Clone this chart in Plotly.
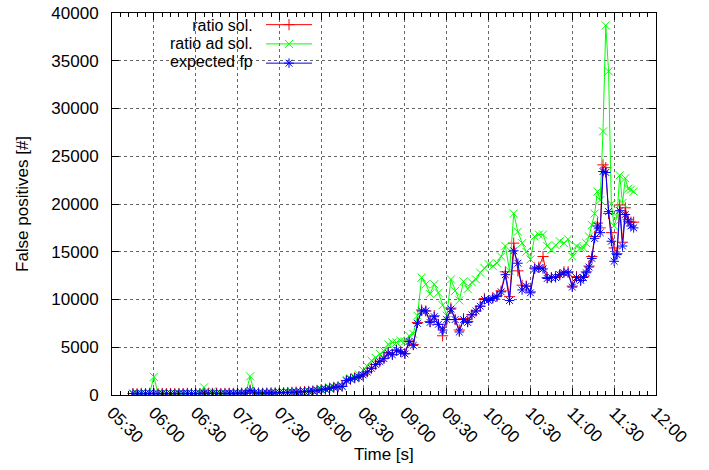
import pandas as pd
import plotly.graph_objects as go

# time stamps: 3-min steps up to 11:06, then 2-min steps to 11:44
times = list(pd.date_range("2000-01-01 05:45", "2000-01-01 11:06", freq="3min")) + \
        list(pd.date_range("2000-01-01 11:08", "2000-01-01 11:44", freq="2min"))

expected_fp = [
    150, 130, 160, 140, 170, 150, 130, 160, 140, 150,
    140, 160, 150, 170, 150, 140, 160, 200, 150, 170,
    170, 150, 160, 180, 170, 190, 200, 180, 480, 220,
    200, 190, 210, 220, 230, 250, 240, 260, 280, 300,
    320, 350, 380, 420, 480,
    550, 600, 700, 800, 850, 900, 1500, 1650, 1800, 1900,
    2100, 2400, 2800, 3200, 3500, 3800, 4400, 4200, 4700, 4500,
    4300, 5600, 5200, 7500, 8800, 8800, 7600, 8200, 7400, 6800,
    7900, 9000, 7900, 6600, 7900, 7600, 8400, 8800, 9300, 10000,
    9900, 10100, 10300, 10800, 12600, 9900, 15100, 13800, 11000, 11400,
    10700, 13200, 13300, 13200, 12200, 12300, 12300, 12600, 12800, 12800,
    11300, 12300, 12000,
    12300, 12800, 13400, 14300, 16400, 17700, 17000, 23400, 23300, 19200,
    16100, 14000, 14700, 19300, 15600, 18900, 18200, 17700, 17500,
]

ratio_sol = [
    150, 130, 160, 140, 170, 150, 130, 160, 140, 150,
    140, 160, 150, 170, 150, 140, 160, 210, 150, 170,
    170, 150, 160, 180, 170, 190, 200, 180, 520, 220,
    200, 190, 210, 220, 230, 250, 240, 260, 280, 300,
    320, 350, 380, 420, 480,
    560, 610, 710, 800, 860, 920, 1520, 1660, 1800, 1920,
    2100, 2450, 2800, 3200, 3550, 3850, 4450, 4250, 4700, 4550,
    4350, 5650, 5300, 7600, 8900, 8800, 7700, 8300, 7400, 6200,
    7900, 9100, 7900, 6800, 8000, 7700, 8400, 8800, 9300, 10100,
    9900, 10200, 10400, 10900, 12900, 10300, 15900, 13000, 11500, 11400,
    10800, 13300, 13400, 14500, 12300, 12300, 12400, 12600, 12900, 12900,
    11400, 12400, 12000,
    12400, 12900, 13500, 14500, 16600, 18000, 17500, 24100, 23800, 19000,
    17000, 15400, 14800, 19900, 16000, 19600, 18400, 18100, 18100,
]

ratio_ad_sol = [
    180, 160, 190, 170, 200, 1900, 160, 190, 170, 180,
    170, 190, 180, 200, 180, 170, 190, 800, 180, 400,
    200, 180, 190, 210, 200, 220, 230, 210, 1950, 250,
    230, 220, 240, 250, 260, 280, 270, 290, 310, 330,
    350, 380, 410, 450, 520,
    600, 650, 750, 850, 900, 950, 1600, 1750, 1900, 2150,
    2600, 3000, 3600, 3900, 4300, 4600, 5300, 5500, 5500, 5700,
    5600, 6200, 6400, 8300, 12300, 11600, 10600, 11600, 10700, 9400,
    8300, 12100, 10900, 9900, 11900, 11100, 11800, 12100, 12800, 13300,
    13700, 13500, 13800, 14500, 15600, 13000, 19000, 17100, 15900, 15000,
    14200, 16600, 16800, 16800, 15600, 15200, 15700, 16100, 15900, 16300,
    14500, 15600, 15400,
    15400, 15900, 16600, 17800, 19000, 21300, 20400, 27600, 38700, 33900,
    20000, 17700, 18700, 23000, 20100, 22700, 21600, 21500, 21300,
]

series_names = ["ratio sol.", "ratio ad sol.", "expected fp"]
series_colors = ["#ff0000", "#00ff00", "#0000ff"]
series_symbols = ["cross-thin-open", "x-thin-open", "asterisk-open"]
series_sizes = [8, 8, 8]
series_values = [ratio_sol, ratio_ad_sol, expected_fp]

FONT = "Liberation Sans, Arial, sans-serif"

fig = go.Figure()
for name, col, sym, sz, vals in zip(series_names, series_colors, series_symbols, series_sizes, series_values):
    fig.add_trace(go.Scatter(
        x=times, y=vals, name=" ", mode="lines+markers",
        line=dict(color=col, width=1),
        marker=dict(symbol=sym, size=sz, line=dict(color=col, width=1), color=col),
    ))

L, R, T, B = 112, 53, 10, 75
W, H = 709, 470
pw, ph = W - L - R, H - T - B

def px(x):
    return (x - L) / pw

def py(y):
    return (H - B - y) / ph

# legend labels: one right-aligned block, 16px text with 18px line pitch
legend_text = "<br>".join('<span style="font-size:16px">%s</span>' % n for n in series_names)

annotations = [
    dict(text=legend_text, xref="paper", yref="paper", x=px(254), y=py(40.5),
         xanchor="right", yanchor="middle", align="right", showarrow=False, borderpad=0,
         font=dict(family=FONT, size=13.85, color="black")),
    dict(text="Time [s]", xref="paper", yref="paper", x=0.5, y=py(455),
         xanchor="center", yanchor="middle", showarrow=False,
         font=dict(family=FONT, size=17, color="black")),
    dict(text="False positives [#]", xref="paper", yref="paper", x=px(22), y=0.5,
         xanchor="center", yanchor="middle", showarrow=False, textangle=-90,
         font=dict(family=FONT, size=17, color="black")),
]

fig.update_layout(
    width=W, height=H,
    margin=dict(l=L, r=R, t=T, b=B, pad=0),
    paper_bgcolor="white", plot_bgcolor="white",
    font=dict(family=FONT, size=17, color="black"),
    showlegend=True,
    legend=dict(x=px(261), y=py(7), xanchor="left", yanchor="top",
                bgcolor="rgba(0,0,0,0)", itemwidth=46, font=dict(size=12.5),
                tracegroupgap=0),
    annotations=annotations,
    xaxis=dict(
        type="date", automargin=False,
        range=["2000-01-01 05:30", "2000-01-01 12:00"],
        tick0="2000-01-01 05:30", dtick=30 * 60 * 1000,
        tickformat="%H:%M", tickangle=45,
        ticks="inside", ticklen=7, tickcolor="black", mirror="ticks",
        showline=True, linecolor="black", linewidth=1,
        showgrid=True, gridcolor="#666666", griddash="dot", gridwidth=1,
        minor=dict(dtick=6 * 60 * 1000, ticks="inside", ticklen=4, tickcolor="black", showgrid=False),
        ticklabelstandoff=0,
        tickfont=dict(family=FONT, size=17),
    ),
    yaxis=dict(
        automargin=False,
        range=[0, 40000], dtick=5000, tick0=0, tickformat="d",
        ticks="inside", ticklen=7, tickcolor="black", mirror="ticks",
        showline=True, linecolor="black", linewidth=1,
        showgrid=True, gridcolor="#666666", griddash="dot", gridwidth=1,
        zeroline=False,
        ticklabelstandoff=9,
        tickfont=dict(family=FONT, size=17),
    ),
)

fig.write_html("out.html")
